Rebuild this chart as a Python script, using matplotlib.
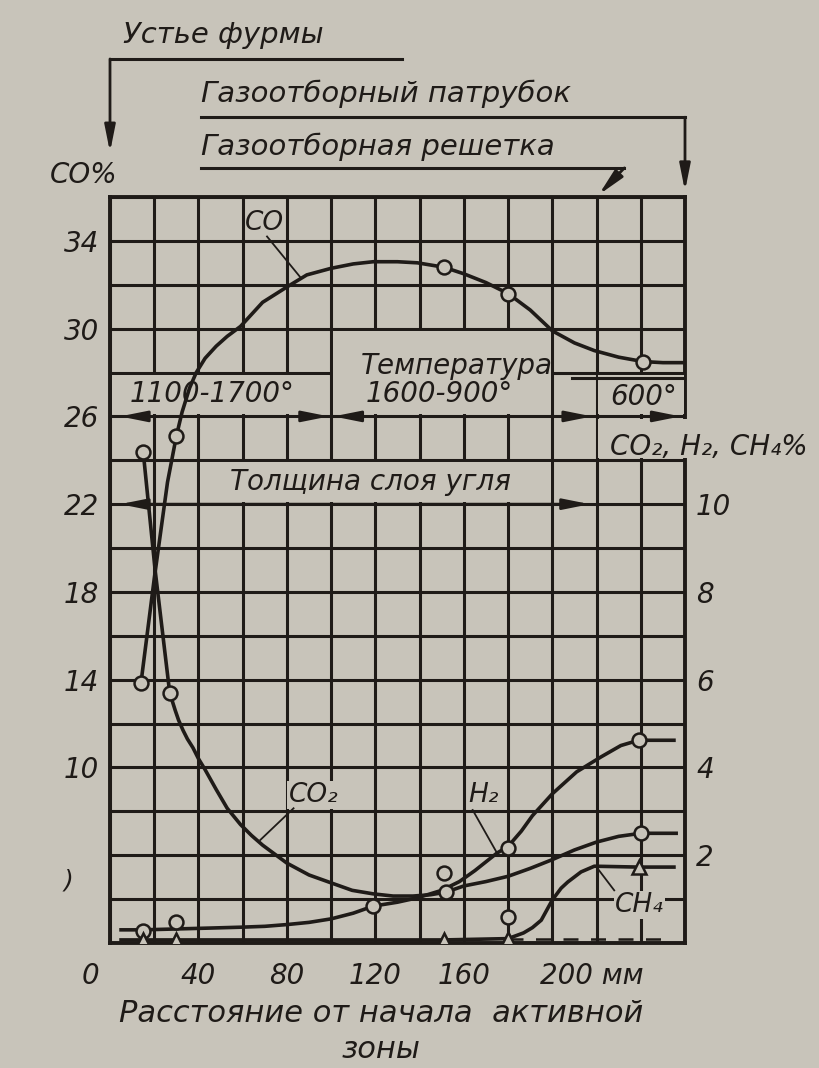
import numpy as np
import matplotlib.pyplot as plt
import matplotlib.transforms as mtransforms
from matplotlib.patches import Rectangle

# distance from the start of the active zone, mm
# CO, % (left scale)
co_x = [14, 20, 26, 30, 32.6, 36, 39, 43, 48, 53, 59, 69, 80, 89, 100, 110, 119, 130,
        139, 151, 160, 170, 180, 190, 200, 210, 219, 230, 241, 250, 259]
co_y = [13.85, 18.6, 23.0, 25.1, 26.2, 27.3, 28.0, 28.65, 29.2, 29.65, 30.1, 31.2,
        31.9, 32.45, 32.75, 32.95, 33.05, 33.05, 33.0, 32.8, 32.5, 32.1, 31.6, 30.85,
        29.9, 29.35, 29.0, 28.7, 28.5, 28.45, 28.45]
co_mx = [14, 30, 151, 180, 241]
co_my = [13.85, 25.1, 32.8, 31.6, 28.5]

# CO2, H2, CH4, % (right scale)
co2_x = [15, 20.4, 27, 29.5, 31, 33, 35, 37.5, 40, 43, 48, 53, 59, 64, 69, 80, 90,
         100, 109.5, 119, 128, 137, 145, 152, 160, 170, 180, 190, 200, 210, 220, 230,
         240, 256]
co2_y = [11.2, 8.5, 5.7, 5.3, 5.08, 4.85, 4.65, 4.45, 4.2, 3.95, 3.5, 3.07, 2.7, 2.45,
         2.23, 1.82, 1.55, 1.37, 1.2, 1.12, 1.07, 1.07, 1.1, 1.16, 1.3, 1.4, 1.52, 1.7,
         1.9, 2.12, 2.3, 2.43, 2.5, 2.5]
co2_mx = [15, 27, 152, 151, 180, 240]
co2_my = [11.2, 5.7, 1.16, 1.6, 0.6, 2.5]

h2_x = [5, 15, 30, 45, 59, 70, 80, 90, 100, 110, 119, 130, 139, 150, 158, 165, 175,
        180, 186, 191, 200, 211, 222, 231, 239, 255]
h2_y = [0.3, 0.3, 0.32, 0.34, 0.36, 0.38, 0.42, 0.47, 0.55, 0.68, 0.84, 0.93, 1.03,
        1.2, 1.4, 1.65, 2.05, 2.2, 2.55, 2.9, 3.4, 3.9, 4.24, 4.5, 4.62, 4.62]
h2_mx = [15, 30, 119, 180, 239]
h2_my = [0.28, 0.48, 0.84, 2.16, 4.62]

ch4_x = [5, 30, 80, 130, 151, 180, 187, 191, 195, 200, 204, 207, 213, 219, 239, 255]
ch4_y = [0.07, 0.07, 0.07, 0.07, 0.07, 0.1, 0.23, 0.35, 0.52, 0.98, 1.25, 1.39,
         1.62, 1.75, 1.73, 1.73]
ch4_mx = [15, 30, 151, 180, 239]
ch4_my = [0.07, 0.07, 0.07, 0.1, 1.73]
ch4_dash_x = [180, 250]
ch4_dash_y = [0.1, 0.1]

x_ticks = [0, 40, 80, 120, 160, 200]
x_labels = ['0', '40', '80', '120', '160', '200 мм']
left_ticks = [10, 14, 18, 22, 26, 30, 34]
right_ticks = [2, 4, 6, 8, 10]

bg = '#c8c4ba'
ink = '#1f1b18'

plt.rcParams['font.family'] = ['DejaVu Sans']
plt.rcParams['font.style'] = 'italic'
plt.rcParams['font.size'] = 20
plt.rcParams['text.color'] = ink
plt.rcParams['axes.labelcolor'] = ink

fig = plt.figure(figsize=(8.19, 10.68), dpi=100, facecolor=bg)
ax = fig.add_axes([110 / 819, 1 - 943 / 1068, 575 / 819, 746 / 1068])
ax.set_facecolor(bg)
ax.set_xlim(0, 260)
ax.set_ylim(2, 36)
ax.set_axisbelow(True)

# grid: 20 mm by 2 % CO (1 % on the right scale)
ax.set_xticks(x_ticks)
ax.set_xticklabels(x_labels)
ax.set_xticks(np.arange(0, 261, 20), minor=True)
ax.set_yticks(left_ticks)
ax.set_yticks(np.arange(2, 37, 2), minor=True)
ax.grid(which='both', color=ink, lw=2.2)
ax.tick_params(which='both', length=0, colors=ink, labelsize=20)
ax.tick_params(axis='y', pad=8)
ax.tick_params(axis='x', pad=14)
for s in ax.spines.values():
    s.set_color(ink)
    s.set_linewidth(2.8)

lab = ax.get_xticklabels()
lab[0].set_transform(lab[0].get_transform() +
                     mtransforms.ScaledTranslation(-0.2, 0, fig.dpi_scale_trans))
lab[-1].set_ha('left')
lab[-1].set_transform(lab[-1].get_transform() +
                      mtransforms.ScaledTranslation(-0.12, 0, fig.dpi_scale_trans))

axr = ax.twinx()
axr.set_ylim(0, 17)
axr.set_yticks(right_ticks)
axr.tick_params(length=0, colors=ink, labelsize=20, pad=8)
for s in axr.spines.values():
    s.set_visible(False)

# cleared cells behind the inscriptions
clear = [(0.8, 26.1, 99.2, 27.9), (100.8, 26.1, 199.2, 29.9), (220.8, 26.1, 259.5, 27.9),
         (40.8, 22.1, 199.2, 23.9), (220.8, 24.1, 263, 25.9)]
for x0, y0, x1, y1 in clear:
    ax.add_patch(Rectangle((x0, y0), x1 - x0, y1 - y0, fc=bg, ec='none',
                           zorder=3, clip_on=False))

# curves
ax.plot(co_x, co_y, color=ink, lw=2.6, zorder=5)
ax.plot(co_mx, co_my, 'o', ms=10, mfc=bg, mec=ink, mew=1.8, zorder=6)

axr.plot(co2_x, co2_y, color=ink, lw=2.6, zorder=3)
axr.plot(h2_x, h2_y, color=ink, lw=2.6, zorder=3)
axr.plot(ch4_x, ch4_y, color=ink, lw=2.6, zorder=3)
axr.plot(ch4_dash_x, ch4_dash_y, color=ink, lw=1.8, ls=(0, (6, 5)), zorder=3)
axr.plot(co2_mx, co2_my, 'o', ms=10, mfc=bg, mec=ink, mew=1.8, zorder=4)
axr.plot(h2_mx, h2_my, 'o', ms=10, mfc=bg, mec=ink, mew=1.8, zorder=4)
axr.plot(ch4_mx, ch4_my, '^', ms=10, mfc=bg, mec=ink, mew=1.8, zorder=4)


def arrow(a, start, end, style, trans):
    a.annotate('', xy=end, xytext=start, xycoords=trans, textcoords=trans,
               annotation_clip=False,
               arrowprops=dict(arrowstyle=style, color=ink, lw=2.0, mutation_scale=20,
                               shrinkA=0, shrinkB=0))


two = '<|-|>,head_length=0.8,head_width=0.16'
one = '-|>,head_length=0.8,head_width=0.16'

# temperature zones and coal layer thickness
arrow(ax, (99, 26), (4.5, 26), two, ax.transData)
arrow(ax, (101, 26), (218, 26), two, ax.transData)
arrow(ax, (222, 26), (258, 26), one, ax.transData)
arrow(ax, (4.5, 22), (217, 22), two, ax.transData)
ax.plot([209, 260], [27.75, 27.75], color=ink, lw=2.2, zorder=4)

ax.text(46, 27.0, '1100-1700°', ha='center', va='center', zorder=4)
ax.text(157, 28.3, 'Температура', ha='center', va='center', zorder=4)
ax.text(149, 27.0, '1600-900°', ha='center', va='center', zorder=4)
ax.text(241.5, 26.9, '600°', ha='center', va='center', zorder=4)
ax.text(118, 23.0, 'Толщина слоя угля', ha='center', va='center', zorder=4)
ax.text(226, 24.6, 'CO₂, H₂, CH₄%', ha='left', va='center', zorder=4, clip_on=False)

# curve labels with leaders
ax.text(70, 34.8, 'CO', ha='center', va='center', fontsize=19, zorder=4)
ax.plot([71, 86], [34.2, 32.35], color=ink, lw=1.3, zorder=4)
box = dict(fc=bg, ec='none', pad=1)
axr.text(92, 3.37, 'CO₂', ha='center', va='center', fontsize=19, bbox=box, zorder=2)
axr.plot([83, 68], [3.07, 2.35], color=ink, lw=1.3, zorder=3)
axr.text(169, 3.37, 'H₂', ha='center', va='center', fontsize=19, bbox=box, zorder=2)
axr.plot([164, 175], [3.03, 2.05], color=ink, lw=1.3, zorder=3)
axr.text(239.5, 0.87, 'CH₄', ha='center', va='center', fontsize=19, bbox=box, zorder=2)
axr.plot([228, 220], [1.2, 1.73], color=ink, lw=1.3, zorder=3)

# header: tuyere mouth, gas off-take pipe and grid
hdr = mtransforms.blended_transform_factory(ax.transData, ax.transAxes)
ax.text(6, 1.217, 'Устье фурмы', transform=hdr, ha='left', va='center', fontsize=21)
ax.plot([132, 0], [1.185, 1.185], transform=hdr, color=ink, lw=2.2, clip_on=False)
arrow(ax, (0, 1.185), (0, 1.06), one, hdr)
ax.text(41, 1.139, 'Газоотборный патрубок', transform=hdr, ha='left', va='center',
        fontsize=21)
ax.plot([41, 260], [1.107, 1.107], transform=hdr, color=ink, lw=2.2, clip_on=False)
arrow(ax, (260, 1.107), (260, 1.008), one, hdr)
ax.text(41, 1.067, 'Газоотборная решетка', transform=hdr, ha='left', va='center',
        fontsize=21)
ax.plot([41, 232.6], [1.039, 1.039], transform=hdr, color=ink, lw=2.2, clip_on=False)
arrow(ax, (232.6, 1.039), (221, 1.003), one, hdr)
ax.text(3.2, 1.0295, 'CO%', transform=hdr, ha='right', va='center', fontsize=20)

side = mtransforms.blended_transform_factory(ax.transAxes, ax.transData)
ax.text(-0.073, 4.87, ')', transform=side, ha='center', va='center', fontsize=18)

ax.set_xlabel('Расстояние от начала  активной\nзоны', fontsize=22, linespacing=1.3,
              color=ink)
ax.xaxis.set_label_coords(0.471, -0.075)

fig.savefig('out.png', dpi=100, facecolor=bg)
